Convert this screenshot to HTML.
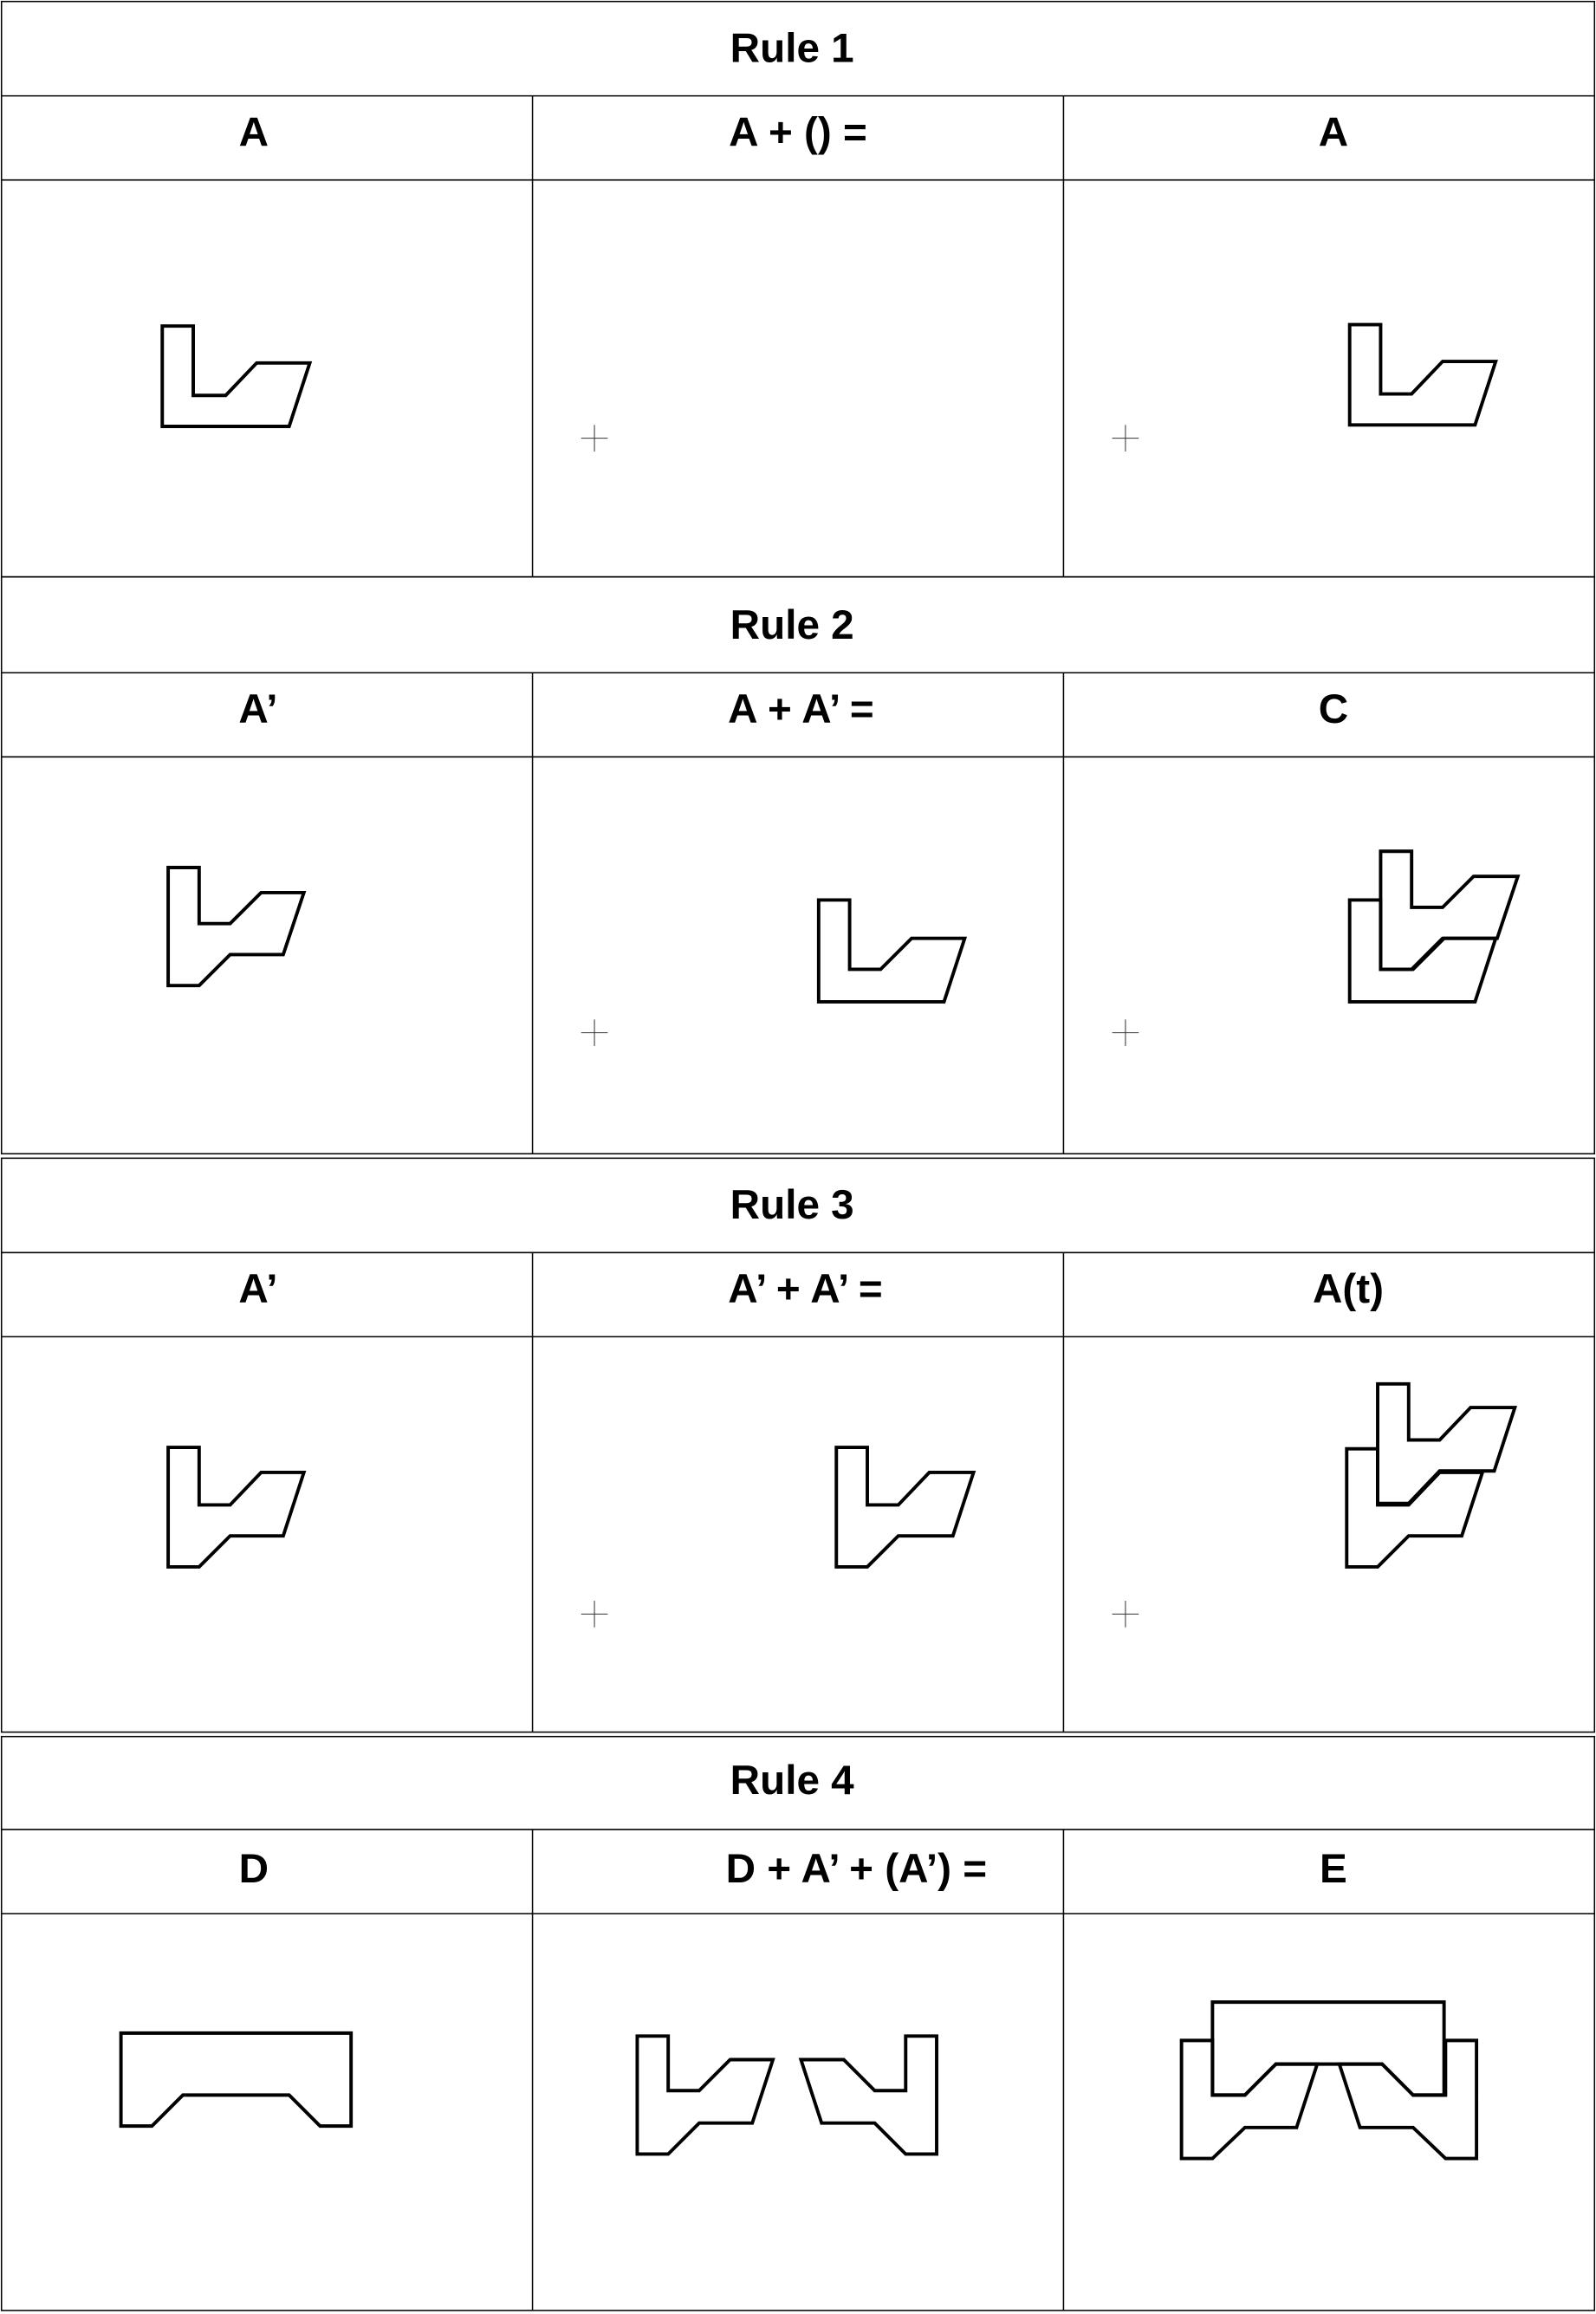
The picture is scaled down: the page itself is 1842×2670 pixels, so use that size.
<!DOCTYPE html>
<html><head><meta charset="utf-8"><style>
html,body{margin:0;padding:0;background:#fff;}
svg{display:block;}
text{font-family:"Liberation Sans",Arial,sans-serif;font-weight:bold;font-size:28px;fill:#000;}
.g{stroke:#000;stroke-width:0.9;fill:none;}
.s{stroke:#000;stroke-width:2.3;fill:none;stroke-linejoin:miter;}
.c{stroke:#333;stroke-width:0.6;fill:none;}
</style></head><body>
<svg width="1842" height="2670" viewBox="0 0 1082 1568.4" xmlns="http://www.w3.org/2000/svg">
<g>
<!-- section 1 -->
<rect class="g" x="1" y="1" width="1080" height="390"/>
<line class="g" x1="1" y1="65" x2="1081" y2="65"/>
<line class="g" x1="1" y1="122" x2="1081" y2="122"/>
<line class="g" x1="361" y1="65" x2="361" y2="391"/>
<line class="g" x1="721" y1="65" x2="721" y2="391"/>
<!-- section 2 -->
<rect class="g" x="1" y="391" width="1080" height="391"/>
<line class="g" x1="1" y1="456" x2="1081" y2="456"/>
<line class="g" x1="1" y1="513" x2="1081" y2="513"/>
<line class="g" x1="361" y1="456" x2="361" y2="782"/>
<line class="g" x1="721" y1="456" x2="721" y2="782"/>
<!-- section 3 -->
<rect class="g" x="1" y="785" width="1080" height="389"/>
<line class="g" x1="1" y1="849" x2="1081" y2="849"/>
<line class="g" x1="1" y1="906" x2="1081" y2="906"/>
<line class="g" x1="361" y1="849" x2="361" y2="1174"/>
<line class="g" x1="721" y1="849" x2="721" y2="1174"/>
<!-- section 4 -->
<rect class="g" x="1" y="1177" width="1080" height="389"/>
<line class="g" x1="1" y1="1240" x2="1081" y2="1240"/>
<line class="g" x1="1" y1="1297" x2="1081" y2="1297"/>
<line class="g" x1="361" y1="1240" x2="361" y2="1566"/>
<line class="g" x1="721" y1="1240" x2="721" y2="1566"/>
</g>

<text x="537" y="42" text-anchor="middle">Rule 1</text>
<text x="172" y="99" text-anchor="middle">A</text>
<text x="541" y="99" text-anchor="middle">A + () =</text>
<text x="904" y="99" text-anchor="middle">A</text>

<text x="537" y="433" text-anchor="middle">Rule 2</text>
<text x="175" y="490" text-anchor="middle">A’</text>
<text x="543" y="490" text-anchor="middle">A + A’ =</text>
<text x="904" y="490" text-anchor="middle">C</text>

<text x="537" y="826" text-anchor="middle">Rule 3</text>
<text x="175" y="883" text-anchor="middle">A’</text>
<text x="546" y="883" text-anchor="middle">A’ + A’ =</text>
<text x="914" y="883" text-anchor="middle">A(t)</text>

<text x="537" y="1216" text-anchor="middle">Rule 4</text>
<text x="172" y="1276" text-anchor="middle">D</text>
<text x="492" y="1276" text-anchor="start">D + A’ + (A’) =</text>
<text x="904" y="1276" text-anchor="middle">E</text>

<!-- Rule 1 shapes -->
<polygon class="s" points="110,221 131,221 131,268 153,268 174,246 210,246 196,289 110,289"/>
<g class="c"><line x1="394" y1="297" x2="412" y2="297"/><line x1="403" y1="288" x2="403" y2="306"/></g>
<g class="c"><line x1="754" y1="297" x2="772" y2="297"/><line x1="763" y1="288" x2="763" y2="306"/></g>
<polygon class="s" points="915,220 936,220 936,267 957,267 978,245 1014,245 1000,288 915,288"/>

<!-- Rule 2 shapes -->
<polygon class="s" points="114,588 135,588 135,626 156,626 177,605 206,605 192,647 156,647 135,668 114,668"/>
<g class="c"><line x1="394" y1="700" x2="412" y2="700"/><line x1="403" y1="691" x2="403" y2="709"/></g>
<polygon class="s" points="555,610 576,610 576,657 597,657 618,636 654,636 640,679 555,679"/>
<g class="c"><line x1="754" y1="700" x2="772" y2="700"/><line x1="763" y1="691" x2="763" y2="709"/></g>
<g>
<polygon class="s" points="915,610 936,610 936,657 957,657 978,636 1014,636 1000,679 915,679"/>
<polygon class="s" points="936,577 957,577 957,615 978,615 999,594 1029,594 1015,636 979,636 958,657 936,657"/>
</g>

<!-- Rule 3 shapes -->
<polygon class="s" points="114,981 135,981 135,1020 156,1020 177,998 206,998 192,1041 156,1041 135,1062 114,1062"/>
<g class="c"><line x1="394" y1="1094" x2="412" y2="1094"/><line x1="403" y1="1085" x2="403" y2="1103"/></g>
<polygon class="s" points="567,981 588,981 588,1020 609,1020 630,998 660,998 646,1041 609,1041 588,1062 567,1062"/>
<g class="c"><line x1="754" y1="1094" x2="772" y2="1094"/><line x1="763" y1="1085" x2="763" y2="1103"/></g>
<g>
<polygon class="s" points="913,982 934,982 934,1020 955,1020 976,998 1005,998 991,1041 955,1041 934,1062 913,1062"/>
<polygon class="s" points="934,938 955,938 955,976 976,976 997,954 1027,954 1013,997 976,997 955,1019 934,1019"/>
</g>

<!-- Rule 4 shapes -->
<polygon class="s" points="82,1378 238,1378 238,1441 217,1441 196,1420 124,1420 103,1441 82,1441"/>
<polygon class="s" points="432,1380 453,1380 453,1417 474,1417 495,1396 524,1396 510,1439 474,1439 453,1460 432,1460"/>
<polygon class="s" points="635,1380 614,1380 614,1417 593,1417 572,1396 543,1396 557,1439 593,1439 614,1460 635,1460"/>
<g>
<polygon class="s" points="801,1383 822,1383 822,1420 844,1420 865,1399 893,1399 879,1442 844,1442 822,1463 801,1463"/>
<polygon class="s" points="1001,1383 980,1383 980,1420 958,1420 937,1399 908,1399 922,1442 958,1442 980,1463 1001,1463"/>
<polygon class="s" points="822,1357 979,1357 979,1420 958,1420 937,1399 865,1399 844,1420 822,1420"/>
</g>
</svg>
</body></html>
